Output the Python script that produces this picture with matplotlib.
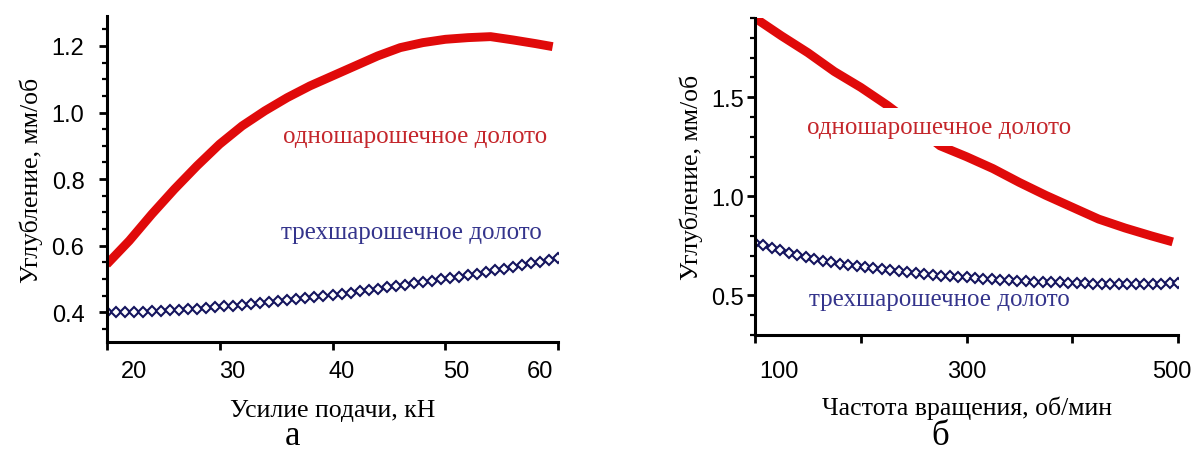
import matplotlib
import matplotlib.pyplot as plt
import matplotlib.transforms as mtransforms
from matplotlib.ticker import MultipleLocator
matplotlib.use('Agg')

# panel a: feed force, kN
force_red = [20, 22, 24, 26, 28, 30, 32, 34, 36, 38, 40, 42, 44, 46, 48,
             50, 52, 54, 56, 58, 59.5]
depth_red_a = [0.544, 0.615, 0.695, 0.77, 0.84, 0.905, 0.96, 1.005, 1.045,
               1.08, 1.11, 1.14, 1.17, 1.195, 1.21, 1.22, 1.225, 1.228,
               1.218, 1.207, 1.198]
force_blue = [20.0, 20.8, 21.6, 22.4, 23.2, 24.0, 24.8, 25.6, 26.4, 27.2,
              28.0, 28.8, 29.6, 30.4, 31.2, 32.0, 32.8, 33.6, 34.4, 35.2,
              36.0, 36.8, 37.6, 38.4, 39.2, 40.0, 40.8, 41.6, 42.4, 43.2,
              44.0, 44.8, 45.6, 46.4, 47.2, 48.0, 48.8, 49.6, 50.4, 51.2,
              52.0, 52.8, 53.6, 54.4, 55.2, 56.0, 56.8, 57.6, 58.4, 59.2, 60.0]
depth_blue_a = [0.400, 0.400, 0.401, 0.401, 0.402, 0.403, 0.404, 0.406,
                0.407, 0.409, 0.411, 0.413, 0.415, 0.418, 0.420, 0.423,
                0.425, 0.428, 0.431, 0.434, 0.437, 0.440, 0.443, 0.446,
                0.449, 0.452, 0.456, 0.459, 0.463, 0.467, 0.471, 0.475,
                0.479, 0.483, 0.487, 0.491, 0.495, 0.499, 0.503, 0.507,
                0.512, 0.516, 0.521, 0.526, 0.531, 0.536, 0.541, 0.547,
                0.552, 0.558, 0.564]

# panel б: rotation speed, rpm
rpm_red = [100, 125, 150, 175, 200, 225, 250, 275, 300, 325, 350, 375, 400,
           425, 450, 475, 495]
depth_red_b = [1.90, 1.81, 1.725, 1.63, 1.55, 1.46, 1.36, 1.255, 1.20, 1.14,
               1.07, 1.005, 0.945, 0.885, 0.84, 0.80, 0.77]
rpm_blue = [100, 108, 116, 124, 132, 140, 148, 156, 164, 172, 180, 188, 196,
            204, 212, 220, 228, 236, 244, 252, 260, 268, 276, 284, 292, 300,
            308, 316, 324, 332, 340, 348, 356, 364, 372, 380, 388, 396, 404,
            412, 420, 428, 436, 444, 452, 460, 468, 476, 484, 492, 500]
depth_blue_b = [0.766, 0.752, 0.739, 0.727, 0.715, 0.704, 0.693, 0.684,
                0.675, 0.667, 0.660, 0.654, 0.648, 0.643, 0.638, 0.633,
                0.628, 0.623, 0.618, 0.613, 0.608, 0.604, 0.600, 0.597,
                0.594, 0.591, 0.588, 0.585, 0.582, 0.579, 0.576, 0.574,
                0.572, 0.570, 0.568, 0.567, 0.566, 0.565, 0.563, 0.561,
                0.559, 0.557, 0.556, 0.555, 0.555, 0.555, 0.556, 0.558,
                0.560, 0.562, 0.564]

label_one = "одношарошечное долото"
label_three = "трехшарошечное долото"
ylabel = "Углубление, мм/об"

RED = "#e00a0a"
NAVY = "#14145e"
SERIF = "Liberation Serif"
SANS = "Liberation Sans"

plt.rcParams['font.family'] = SANS


def style_axes(ax, xpad, ypad):
    for s in ("top", "right"):
        ax.spines[s].set_visible(False)
    for s in ("left", "bottom"):
        ax.spines[s].set_linewidth(2.2)
    ax.tick_params(which="major", length=6, width=2, labelsize=17)
    ax.tick_params(which="minor", length=3.5, width=1.6)
    ax.tick_params(axis="x", which="major", pad=xpad)
    ax.tick_params(axis="y", which="major", pad=ypad)


def shift_labels(fig, ax, offsets_px):
    labels = ax.xaxis.get_majorticklabels()
    for lab, dx in zip(labels, offsets_px):
        off = mtransforms.ScaledTranslation(dx / 100, 0, fig.dpi_scale_trans)
        lab.set_transform(lab.get_transform() + off)


def main():
    fig = plt.figure(figsize=(11.95, 4.52), dpi=100)

    # --- panel a ---
    ax1 = fig.add_axes([0.0893, 0.2405, 0.3779, 0.7219])
    ax1.plot(force_red, depth_red_a, color=RED, lw=6.4, solid_capstyle="butt")
    ax1.plot(force_blue, depth_blue_a, ls="none", marker="D", ms=5.5,
             mfc="white", mec=NAVY, mew=1.5)
    ax1.set_xlim(20, 60)
    ax1.set_ylim(0.31, 1.29)
    ax1.set_xticks([20, 30, 40, 50, 60])
    ax1.set_yticks([0.4, 0.6, 0.8, 1.0, 1.2])
    ax1.set_yticklabels(["0.4", "0.6", "0.8", "1.0", "1.2"])
    ax1.yaxis.set_minor_locator(MultipleLocator(0.05))
    style_axes(ax1, xpad=7, ypad=10)
    shift_labels(fig, ax1, [27, 13, 9, 11, -18])
    ax1.set_xlabel("Усилие подачи, кН", family=SERIF, fontsize=18.5,
                   labelpad=12)
    ax1.set_ylabel(ylabel, family=SERIF, fontsize=18.5, labelpad=6)
    ax1.text(0.683, 0.632, label_one, transform=ax1.transAxes, family=SERIF,
             fontsize=18, color="#c4262b", ha="center", va="center")
    ax1.text(0.674, 0.337, label_three, transform=ax1.transAxes, family=SERIF,
             fontsize=18, color="#34348c", ha="center", va="center")
    fig.text(292 / 1195, 1 - 437 / 452, "а", family=SERIF, fontsize=25,
             ha="center", va="center")

    # --- panel б ---
    ax2 = fig.add_axes([0.6318, 0.2566, 0.354, 0.7013])
    ax2.plot(rpm_red, depth_red_b, color=RED, lw=6.4, solid_capstyle="butt")
    ax2.plot(rpm_blue, depth_blue_b, ls="none", marker="D", ms=5.5,
             mfc="white", mec=NAVY, mew=1.5)
    ax2.set_xlim(100, 500)
    ax2.set_ylim(0.3, 1.9)
    ax2.set_xticks([100, 200, 300, 400, 500])
    ax2.set_xticklabels(["100", "", "300", "", "500"])
    ax2.set_yticks([0.5, 1.0, 1.5])
    ax2.yaxis.set_minor_locator(MultipleLocator(0.1))
    style_axes(ax2, xpad=12, ypad=2)
    shift_labels(fig, ax2, [24, 0, 0, 0, -6])
    ax2.set_xlabel("Частота вращения, об/мин", family=SERIF, fontsize=18.5,
                   labelpad=10)
    ax2.set_ylabel(ylabel, family=SERIF, fontsize=18.5, labelpad=6)
    ax2.text(0.435, 0.656, label_one, transform=ax2.transAxes, family=SERIF,
             fontsize=18, color="#c4262b", ha="center", va="center",
             bbox=dict(fc="white", ec="none", pad=6))
    ax2.text(0.435, 0.114, label_three, transform=ax2.transAxes, family=SERIF,
             fontsize=18, color="#34348c", ha="center", va="center")
    fig.text(940 / 1195, 1 - 437 / 452, "б", family=SERIF, fontsize=25,
             ha="center", va="center")

    fig.savefig("out.png", dpi=100)


if __name__ == "__main__":
    main()
